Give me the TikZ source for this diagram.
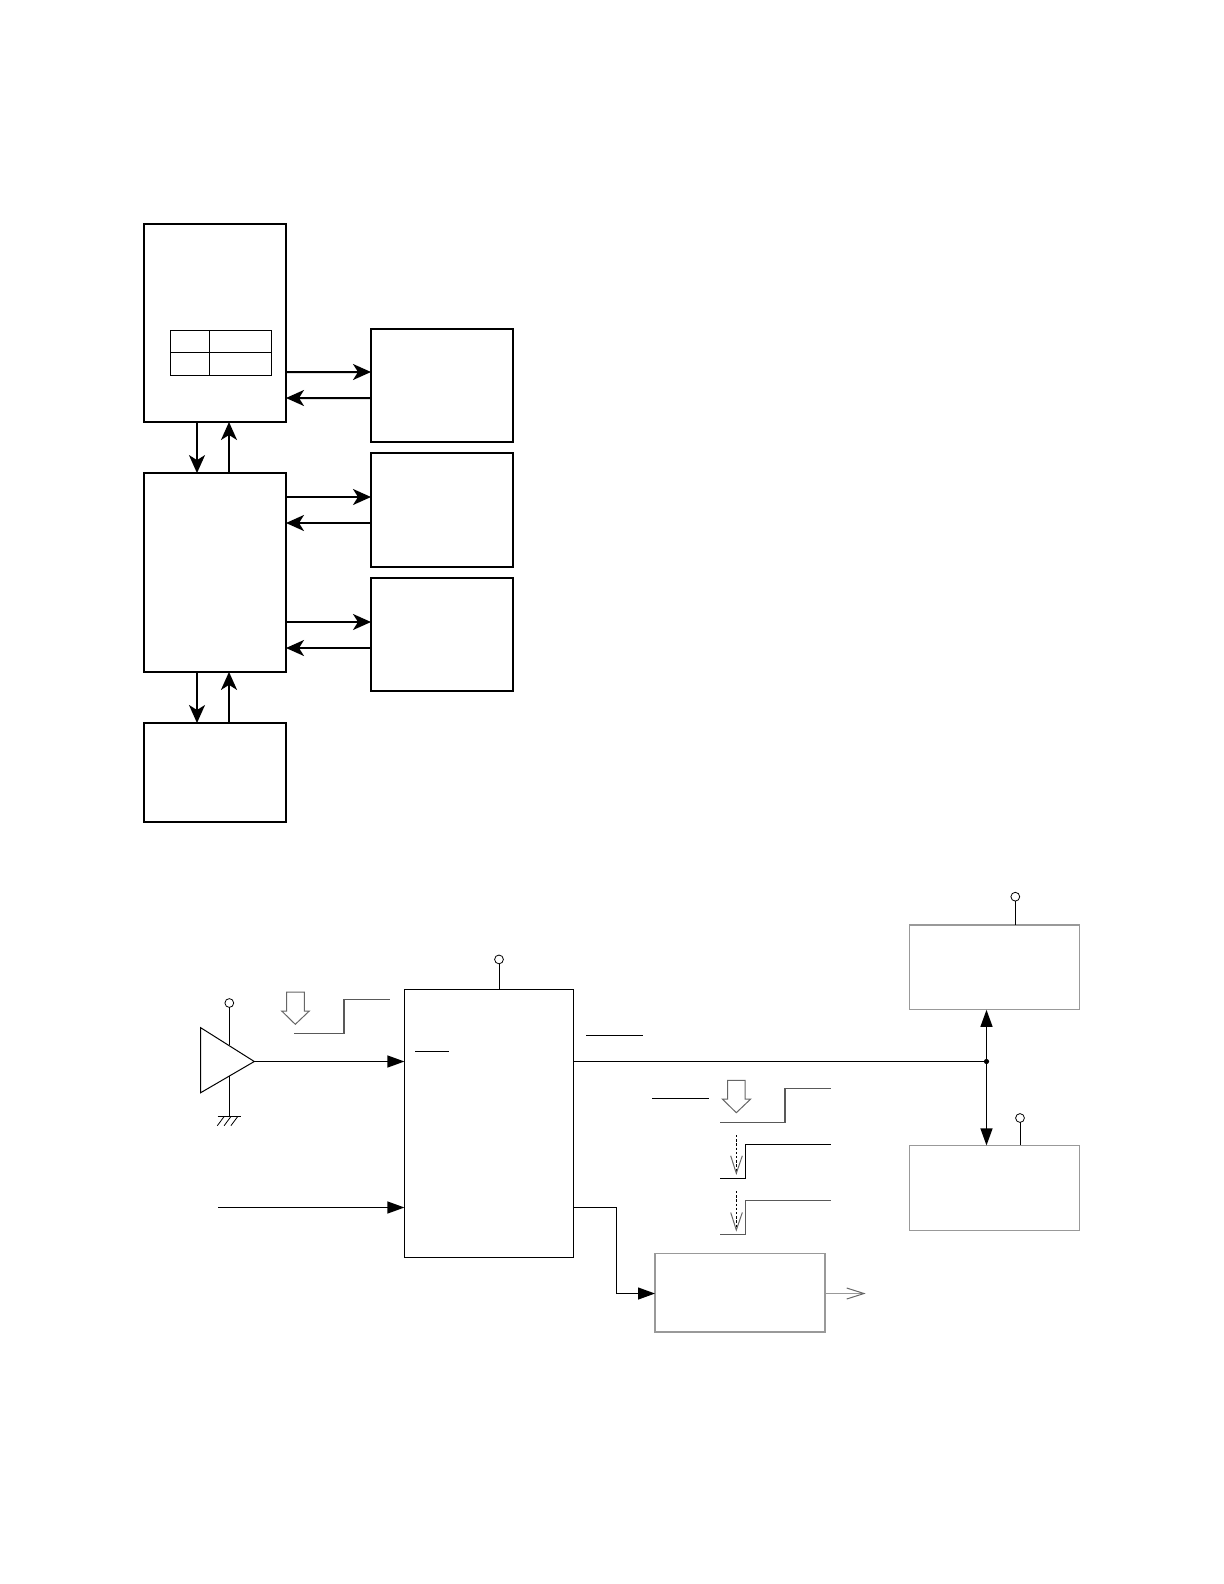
\documentclass[tikz,border=0pt]{standalone}
\usetikzlibrary{arrows.meta}
\begin{document}
\begin{tikzpicture}[
    x=0.5pt,
    y=-0.5pt,
    bigbox/.style={
        draw,
        rectangle,
        line width=1pt,
        inner sep=0pt,
        outer sep=0pt,
        minimum width=71pt
    },
    tallbox/.style={bigbox, minimum height=99pt},
    sidebox/.style={bigbox, minimum height=56.5pt},
    logicbox/.style={
        draw,
        rectangle,
        line width=0.6pt,
        inner sep=0pt,
        outer sep=0pt,
        minimum width=84.6pt,
        minimum height=134pt
    },
    greybox/.style={
        draw=black!40,
        rectangle,
        line width=0.6pt,
        inner sep=0pt,
        outer sep=0pt,
        minimum width=85pt,
        minimum height=42.4pt
    },
    terminal/.style={
        draw,
        circle,
        line width=0.4pt,
        inner sep=0pt,
        outer sep=0pt,
        minimum size=4.4pt
    },
    bigarrow/.style={line width=1pt, -{Stealth[length=9pt,width=8pt,inset=2.5pt]}},
    sigarrow/.style={line width=0.6pt, -{Triangle[length=8.5pt,width=6pt]}},
    thin line/.style={line width=0.5pt},
    wave/.style={draw=black!65, line width=0.6pt},
    hollow/.style={draw=black!60, line width=0.5pt}
]
\useasboundingbox (0,0) rectangle (1224,1584);

% upper diagram
\node[tallbox] (boxa) at (215,323) {};
\node[tallbox, minimum height=99.4pt] (boxe) at (215,572.5) {};
\node[bigbox, minimum height=49.3pt] (boxf) at (215,772.3) {};
\node[sidebox] (boxb) at (442,385.2) {};
\node[sidebox, minimum height=57pt] (boxc) at (442,509.5) {};
\node[sidebox] (boxd) at (442,634.3) {};

% table inside the top box
\draw[line width=0.5pt] (170.3,330.3) rectangle (271.7,375.3);
\draw[line width=0.5pt] (170.3,352.3) -- (271.7,352.3);
\draw[line width=0.5pt] (209.3,330.3) -- (209.3,375.3);

\draw[bigarrow] ([yshift=-24.5pt]boxa.east) -- ([yshift=6.6pt]boxb.west);
\draw[bigarrow] ([yshift=-6.4pt]boxb.west) -- ([yshift=-37.5pt]boxa.east);
\draw[bigarrow] ([yshift=37.75pt]boxe.east) -- ([yshift=6.25pt]boxc.west);
\draw[bigarrow] ([yshift=-6.75pt]boxc.west) -- ([yshift=24.75pt]boxe.east);
\draw[bigarrow] ([yshift=-24.75pt]boxe.east) -- ([yshift=6.15pt]boxd.west);
\draw[bigarrow] ([yshift=-6.85pt]boxd.west) -- ([yshift=-37.75pt]boxe.east);

\draw[bigarrow] ([xshift=-9pt]boxa.south) -- ([xshift=-9pt]boxe.north);
\draw[bigarrow] ([xshift=7pt]boxe.north) -- ([xshift=7pt]boxa.south);
\draw[bigarrow] ([xshift=-9pt]boxe.south) -- ([xshift=-9pt]boxf.north);
\draw[bigarrow] ([xshift=7pt]boxf.north) -- ([xshift=7pt]boxe.south);

% lower diagram
\node[logicbox] (logic) at (489,1123.3) {};
\node[greybox] (upper) at (994.8,967.4) {};
\node[greybox] (lower) at (994.8,1187.8) {};
\node[greybox, minimum height=39.3pt] (driver) at (740,1292.7) {};

\node[terminal] (vamp) at (229.3,1003) {};
\node[terminal] (vlogic) at (499,959.4) {};
\node[terminal] (vupper) at (1015.3,896.7) {};
\node[terminal] (vlower) at (1020,1118) {};

% amplifier
\coordinate (ampout) at (254.3,1061.5);
\coordinate (amptop) at (229.3,1045);
\coordinate (ampbot) at (229.3,1075.7);
\coordinate (gnd) at (229.3,1116.3);
\draw[thin line] (200.7,1027.7) -- (ampout) -- (200.7,1092.7) -- cycle;
\draw[thin line] (vamp) -- (amptop);
\draw[thin line] (ampbot) -- (gnd);
\draw[line width=0.4pt] (217.7,1116.3) -- (241,1116.3);
\foreach \i in {0,1,2}
    \draw[line width=0.4pt] (224.3+6.8*\i,1116.3) -- (217.3+6.8*\i,1125.7);

\coordinate (clkin) at (218,1207.5);
\draw[sigarrow] (ampout) -- (logic.west |- ampout);
\draw[sigarrow] (clkin) -- (logic.west |- clkin);

\draw[thin line] (vlogic) -- (vlogic |- logic.north);
\draw[thin line] (vupper) -- (vupper |- upper.north);
\draw[thin line] (vlower) -- (vlower |- lower.north);

% bus
\node[circle, fill, inner sep=0pt, minimum size=2.6pt] (busdot) at (986.5,1061.5) {};
\draw[thin line] (logic.east |- busdot) -- (busdot);
\draw[sigarrow] (busdot.center) -- (busdot |- upper.south);
\draw[sigarrow] (busdot.center) -- (busdot |- lower.north);

% output stage
\coordinate (logicout) at (573.6,1207.5);
\coordinate (bend) at (616.3,1293.5);
\coordinate (driverout) at (864,1293.5);
\draw[sigarrow] (logicout) -| (bend) -- (driver.west |- bend);
\draw[draw=black!40, line width=0.8pt] (driver.east |- bend) -- (driverout);
\draw[hollow] (846.7,1288) -- (driverout) -- (846.7,1299);

% overbars
\draw[thin line] (415,1051.5) -- (449,1051.5);
\draw[thin line] (586,1035.5) -- (642.7,1035.5);
\draw[thin line] (652,1098.5) -- (709,1098.5);

% waveforms
\draw[wave] (294,1033.5) -- (344,1033.5) -- (344,999.5) -- (390,999.5);
\draw[wave] (720,1122.5) -- (785,1122.5) -- (785,1088.5) -- (831,1088.5);
\draw[thin line] (720,1178.5) -- (745.3,1178.5) -- (745.3,1144.5) -- (831,1144.5);
\draw[wave] (720,1234.5) -- (745.3,1234.5) -- (745.3,1200.5) -- (831,1200.5);

% hollow arrows
\draw[hollow] (286.7,992) -- (304.3,992) -- (304.3,1011) -- (309.3,1011) -- (295.3,1024.3)
    -- (281.7,1011) -- (286.7,1011) -- cycle;
\draw[hollow] (727.7,1080.3) -- (745,1080.3) -- (745,1099) -- (750.7,1099) -- (736.3,1112.7)
    -- (722.3,1099) -- (727.7,1099) -- cycle;

% dashed arrows
\foreach \ya/\yb in {1135/1173.3,1191/1230} {
    \draw[line width=0.4pt, dash pattern=on 1.2pt off 0.9pt] (736.3,\ya) -- (736.3,\yb);
    \draw[hollow] (730.7,\yb-17.5) -- (736.3,\yb) -- (742.3,\yb-17.5);
}
\end{tikzpicture}
\end{document}
